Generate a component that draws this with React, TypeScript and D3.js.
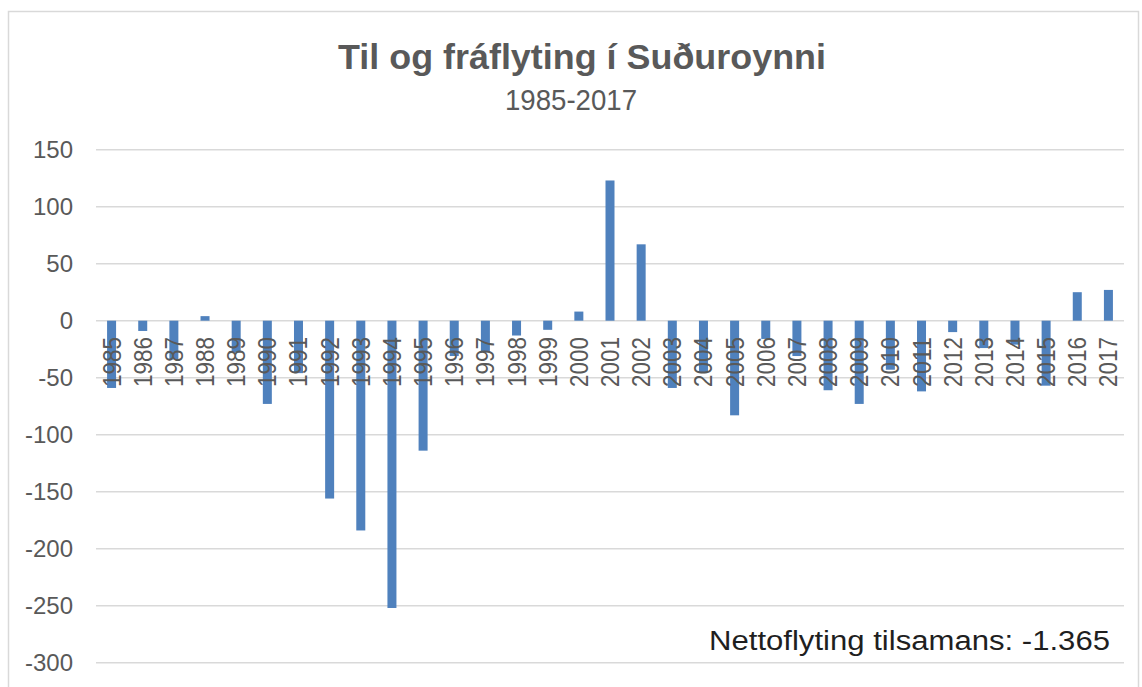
import React from "react";
import * as d3 from "d3";

const years: string[] = [
  "1985","1986","1987","1988","1989","1990","1991","1992","1993","1994","1995",
  "1996","1997","1998","1999","2000","2001","2002","2003","2004","2005","2006",
  "2007","2008","2009","2010","2011","2012","2013","2014","2015","2016","2017",
];
const netMigration: number[] = [
  -59, -9, -34, 4, -28, -73, -46, -156, -184, -252, -114,
  -31, -27, -13, -8, 8, 123, 67, -59, -45, -83, -16,
  -31, -61, -73, -43, -62, -10, -24, -21, -57, 25, 27,
];
const yTicks: number[] = [150, 100, 50, 0, -50, -100, -150, -200, -250, -300];
const titleText = "Til og fráflyting í Suðuroynni";
const subtitleText = "1985-2017";
const noteText = "Nettoflyting tilsamans: -1.365";

const W = 1142;
const H = 687;
const FONT = "'Liberation Sans', Arial, sans-serif";

export default function App() {
  const x = d3
    .scaleBand<string>()
    .domain(years)
    .range([96, 1124])
    .paddingInner(0.711)
    .paddingOuter(0.3555);
  const y = d3.scaleLinear().domain([-300, 150]).range([662.7, 149.7]);
  const y0 = y(0);

  return (
    <svg
      width={W}
      height={H}
      style={{ position: "absolute", left: 0, top: 0, background: "#fff" }}
      fontFamily={FONT}
    >
      <rect x={0} y={0} width={W} height={H} fill="#fff" />
      <rect
        x={8.5}
        y={11.5}
        width={1130}
        height={700}
        fill="none"
        stroke="#d9d9d9"
        strokeWidth={1.5}
      />
      <text
        x={582}
        y={69}
        textAnchor="middle"
        fontSize={35}
        fontWeight="bold"
        fill="#595959"
        textLength={488}
        lengthAdjust="spacingAndGlyphs"
      >
        {titleText}
      </text>
      <text
        x={571}
        y={110}
        textAnchor="middle"
        fontSize={30}
        fill="#595959"
        textLength={132}
        lengthAdjust="spacingAndGlyphs"
      >
        {subtitleText}
      </text>
      {yTicks.map((t) => (
        <g key={t}>
          <line
            x1={96}
            x2={1124}
            y1={y(t)}
            y2={y(t)}
            stroke="#d9d9d9"
            strokeWidth={1.5}
          />
          <text
            x={73}
            y={y(t)}
            dy="0.36em"
            textAnchor="end"
            fontSize={24}
            fill="#595959"
          >
            {t}
          </text>
        </g>
      ))}
      {years.map((yr, i) => {
        const v = netMigration[i];
        return (
          <rect
            key={yr}
            x={x(yr)}
            y={v >= 0 ? y(v) : y0}
            width={x.bandwidth()}
            height={Math.abs(y(v) - y0)}
            fill="#4f81bd"
          />
        );
      })}
      {years.map((yr) => {
        const cx = (x(yr) as number) + x.bandwidth() / 2;
        const ty = 337;
        return (
          <text
            key={"l" + yr}
            transform={`translate(${cx},${ty}) rotate(-90)`}
            dy="0.36em"
            textAnchor="end"
            fontSize={25}
            fill="#595959"
            textLength={50}
            lengthAdjust="spacingAndGlyphs"
          >
            {yr}
          </text>
        );
      })}
      <text
        x={1110}
        y={650}
        textAnchor="end"
        fontSize={27}
        fill="#1f1f1f"
        textLength={401}
        lengthAdjust="spacingAndGlyphs"
      >
        {noteText}
      </text>
    </svg>
  );
}
